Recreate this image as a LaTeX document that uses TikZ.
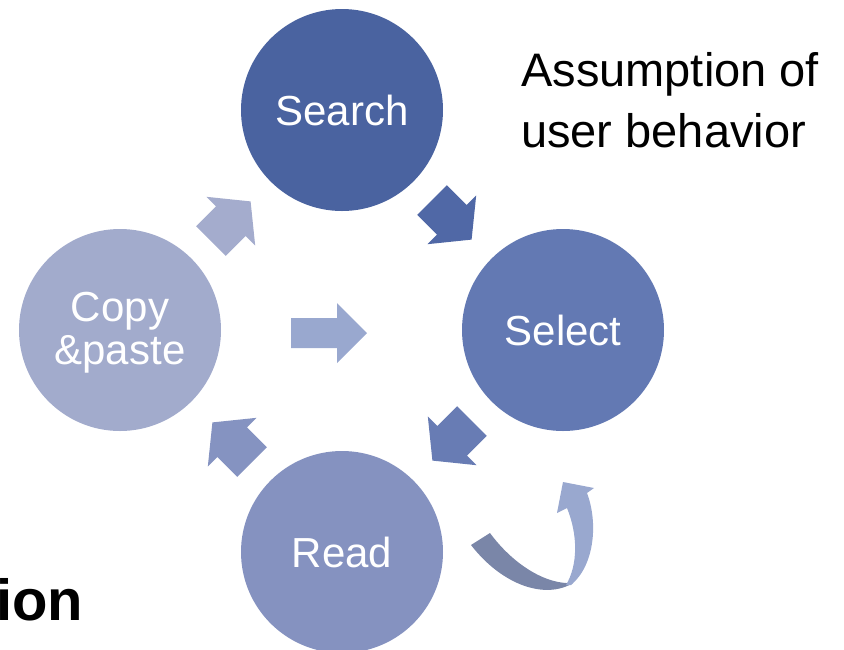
\documentclass[tikz,border=0pt]{standalone}
\usepackage{fontspec}
\setmainfont{Liberation Sans}
\definecolor{cSearch}{RGB}{74,99,160}
\definecolor{cSelect}{RGB}{99,121,179}
\definecolor{cRead}{RGB}{133,146,192}
\definecolor{cCopy}{RGB}{162,171,204}
\definecolor{aOne}{RGB}{80,104,166}
\definecolor{aTwo}{RGB}{104,124,180}
\definecolor{aThree}{RGB}{133,147,193}
\definecolor{aFour}{RGB}{164,172,205}
\definecolor{aMid}{RGB}{153,168,207}
\definecolor{aDark}{RGB}{122,134,168}
\newcommand{\blkarrow}[4]{%
  \begin{scope}[shift={(#1,#2)},rotate=#3]
    \fill[#4] (0,-21) -- (28,-21) -- (28,-34.5) -- (56,0) -- (28,34.5) -- (28,21) -- (0,21) -- cycle;
  \end{scope}}
\begin{document}
\begin{tikzpicture}[x=1pt,y=-1pt,
  stage/.style={circle, minimum size=202pt, inner sep=0pt, text=white,
    font=\fontsize{42}{43}\selectfont, align=center}]
\useasboundingbox (0,0) rectangle (844,649);
\node[stage, fill=cSearch] (search) at (342,110) {Search};
\node[stage, fill=cSelect] (select) at (563,330) {Select};
\node[stage, fill=cRead] (read) at (342,552) {Read};
\node[stage, fill=cCopy] (copy) at (120,330) {};
\node[text=white, font=\fontsize{42}{43}\selectfont, align=center, inner sep=0pt] (copytext) at (120,333) {Copy\\\&paste};
% block arrows of the cycle
\blkarrow{432}{200}{-45}{aOne}
\blkarrow{472}{421}{-135}{aTwo}
\blkarrow{252}{462}{135}{aThree}
\blkarrow{211}{241}{45}{aFour}
% centre arrow
\begin{scope}[shift={(291,333)}]
  \fill[aMid] (0,-15) -- (46,-15) -- (46,-30) -- (76,0) -- (46,30) -- (46,15) -- (0,15) -- cycle;
\end{scope}
% curved arrow
\fill[aDark] (471,545) .. controls (502,585) and (545,600) .. (573,583)
  .. controls (545,585) and (512,563) .. (490,533) -- cycle;
\fill[aMid] (571,585) .. controls (595,565) and (598,522) .. (587,493)
  -- (594,488) -- (563,482) -- (557,513) -- (567,508)
  .. controls (578,535) and (578,565) .. (566,585) -- cycle;
% texts
\node[anchor=north west, align=left, inner sep=0pt, font=\fontsize{47}{61}\selectfont] (assume) at (521,52) {Assumption of\\user behavior};
\node[anchor=base west, inner sep=0pt, font=\fontsize{58}{60}\selectfont\bfseries] (ion) at (-4,620) {ion};
\end{tikzpicture}
\end{document}
